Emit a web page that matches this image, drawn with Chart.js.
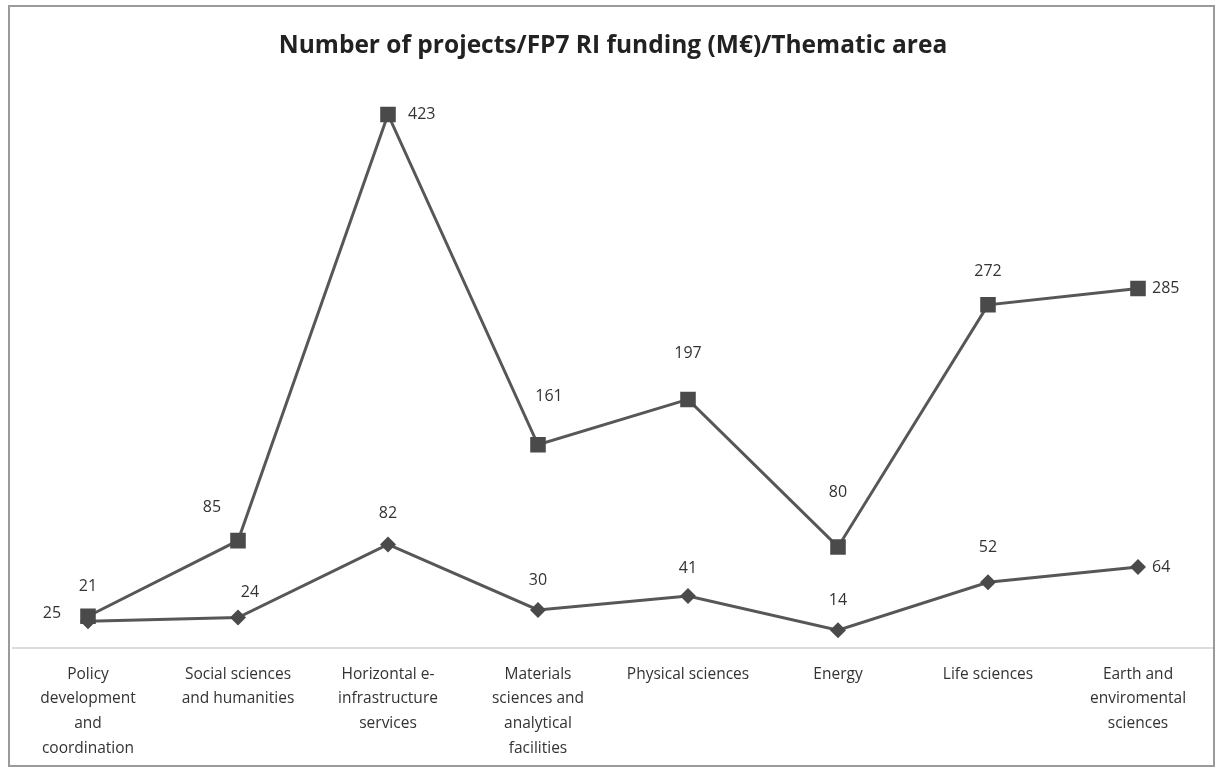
<!DOCTYPE html>
<html>
<head>
<meta charset="utf-8">
<script src="https://cdn.jsdelivr.net/npm/chart.js@4"></script>
<style>
  body { margin: 0; background: #fff; }
  #wrap { position: relative; width: 1220px; height: 771px; }
  #frame {
    position: absolute; left: 8px; top: 5px; width: 1203px; height: 758px;
    border: 2px solid #9a9a9a; pointer-events: none;
  }
</style>
</head>
<body>
<div id="wrap">
  <canvas id="fpChart" width="1220" height="771"></canvas>
  <div id="frame"></div>
</div>
<script>
// categories (thematic areas), split into lines like the original
const areas = [
  ["Policy", "development", "and", "coordination"],
  ["Social sciences", "and humanities"],
  ["Horizontal e-", "infrastructure", "services"],
  ["Materials", "sciences and", "analytical", "facilities"],
  ["Physical sciences"],
  ["Energy"],
  ["Life sciences"],
  ["Earth and", "enviromental", "sciences"],
];

// FP7 RI funding (M€)
const funding = [25, 85, 423, 161, 197, 80, 272, 285];
// number of projects
const projects = [21, 24, 82, 30, 41, 14, 52, 64];

// where each value label sits relative to its point: [dx, dy, align]
const fundingLabelPos = [
  [-36, -3, "center"], [-26, -33, "center"], [20, 0, "left"], [11, -48, "center"],
  [0, -46, "center"], [0, -54, "center"], [0, -33, "center"], [14, 0, "left"],
];
const projectsLabelPos = [
  [0, -35, "center"], [12, -25, "center"], [0, -31, "center"], [0, -30, "center"],
  [0, -28, "center"], [0, -30, "center"], [0, -35, "center"], [14, 0, "left"],
];

const valueLabels = {
  id: "valueLabels",
  afterDatasetsDraw(chart) {
    const ctx = chart.ctx;
    const posList = [fundingLabelPos, projectsLabelPos];
    ctx.save();
    ctx.font = "16px 'Open Sans', sans-serif";
    ctx.fillStyle = "#333";
    ctx.textBaseline = "middle";
    chart.data.datasets.forEach((ds, i) => {
      const meta = chart.getDatasetMeta(i);
      meta.data.forEach((pt, j) => {
        const p = posList[i][j];
        ctx.textAlign = p[2];
        ctx.fillText(String(ds.data[j]), pt.x + p[0], pt.y + p[1]);
      });
    });
    ctx.restore();
  },
};

document.addEventListener("DOMContentLoaded", function () {
  let ctx = document.getElementById("fpChart").getContext("2d");
  let fpChart = new Chart(ctx, {
    type: "line",
    data: {
      labels: areas,
      datasets: [
        {
          label: "FP7 RI funding (M€)",
          data: funding,
          borderColor: "#575757",
          backgroundColor: "#4a4a4a",
          borderWidth: 3,
          pointStyle: "rect",
          pointRadius: 11,
          pointBorderWidth: 0,
          tension: 0,
        },
        {
          label: "Number of projects",
          data: projects,
          borderColor: "#575757",
          backgroundColor: "#4a4a4a",
          borderWidth: 3,
          pointStyle: "rectRot",
          pointRadius: 8,
          pointBorderWidth: 0,
          tension: 0,
        },
      ],
    },
    options: {
      responsive: false,
      animation: false,
      layout: { autoPadding: false, padding: { left: 13, right: 7, top: 0, bottom: 4 } },
      plugins: {
        legend: { display: false },
        tooltip: { enabled: false },
        title: {
          display: true,
          text: "Number of projects/FP7 RI funding (M€)/Thematic area",
          color: "#222",
          font: { family: "'Open Sans', sans-serif", size: 24.5, weight: "bold" },
          padding: { top: 31, bottom: 20 },
        },
      },
      scales: {
        x: {
          offset: true,
          grid: { display: false },
          border: { display: true, color: "#dcdcdc", width: 2 },
          ticks: {
            color: "#333",
            font: { family: "'Open Sans', sans-serif", size: 15.5, lineHeight: 1.6 },
            maxRotation: 0,
            autoSkip: false,
            padding: 6,
          },
        },
        y: {
          display: false,
          min: 0,
          max: 450,
        },
      },
    },
    plugins: [valueLabels],
  });
});
</script>
</body>
</html>
